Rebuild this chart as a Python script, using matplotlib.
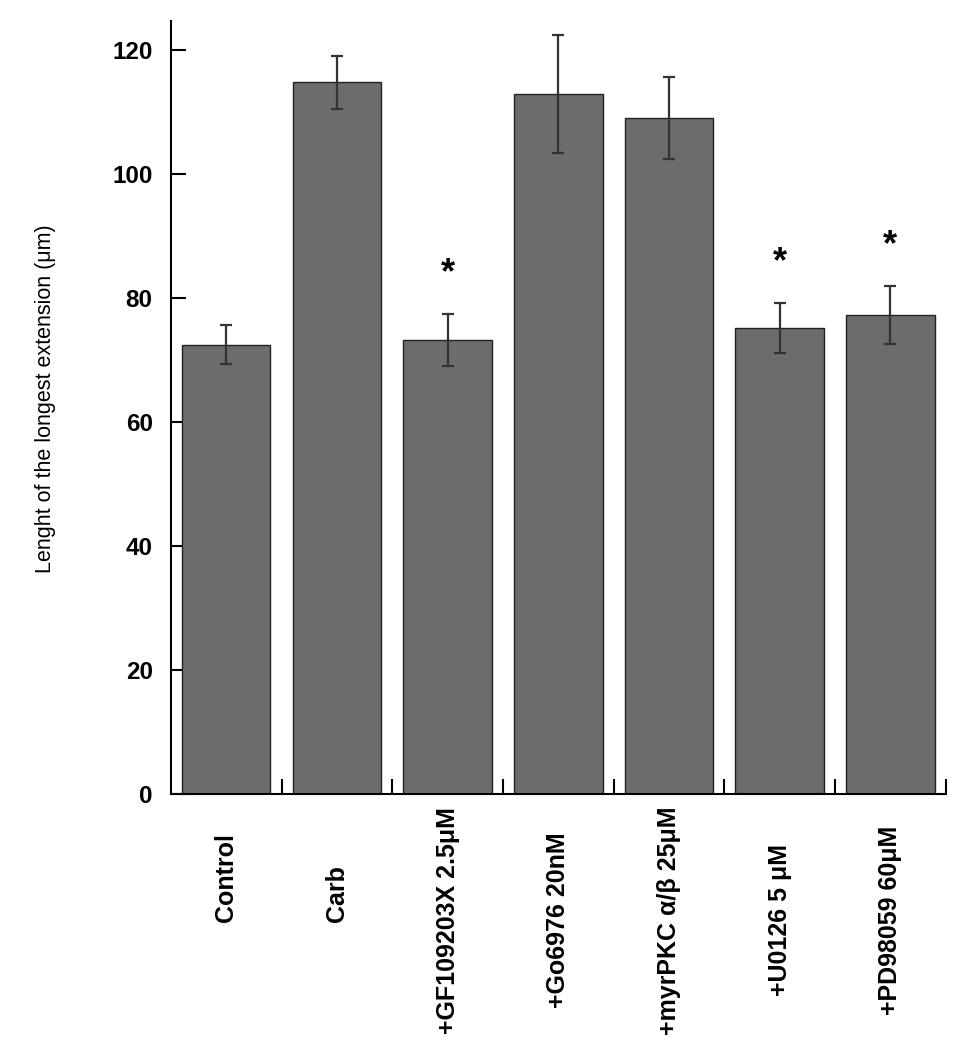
import matplotlib
matplotlib.use("Agg")
import matplotlib.pyplot as plt
import numpy as np

# values
labels = ["Control", "Carb", "+GF109203X 2.5\u03bcM", "+Go6976 20nM",
          "+myrPKC \u03b1/\u03b2 25\u03bcM", "+U0126 5 \u03bcM", "+PD98059 60\u03bcM"]
means = [72.5, 114.8, 73.3, 112.9, 109.0, 75.2, 77.3]
errs = [3.1, 4.3, 4.2, 9.5, 6.6, 4.0, 4.7]
signif = [False, False, True, False, False, True, True]

plt.rcParams.update({"font.family": ["Liberation Sans", "DejaVu Sans"], "font.size": 16})

fig = plt.figure(figsize=(9.65, 10.5), dpi=100)
ax = fig.add_axes([0.177, 0.2438, 0.803, 0.7362])
x = np.arange(len(labels))
ax.bar(x, means, width=0.8, color="#6c6c6c", edgecolor="#222222", linewidth=1.0, zorder=2)
ax.errorbar(x, means, yerr=errs, fmt="none", ecolor="#333333", elinewidth=1.6,
            capsize=4, capthick=1.6, zorder=3)
for xi, m, e, s in zip(x, means, errs, signif):
    if s:
        ax.text(xi, m + e + 6.5, "*", ha="center", va="center", fontsize=26, fontweight="bold")

ax.set_xlim(-0.5, len(labels) - 0.5)
ax.set_ylim(0, 124.7)
ax.set_yticks([0, 20, 40, 60, 80, 100, 120])
ax.tick_params(axis="y", direction="in", length=11, width=1.5, labelsize=17.5, pad=13)
for t in ax.get_yticklabels():
    t.set_fontweight("bold")
ax.set_xticks(x)
ax.set_xticklabels([])
ax.tick_params(axis="x", which="major", length=0)
ax.set_xticks(np.arange(0.5, len(labels), 1.0), minor=True)
ax.tick_params(axis="x", which="minor", direction="in", length=11, width=1.5)
ax.spines[["top", "right"]].set_visible(False)
for sp in ("left", "bottom"):
    ax.spines[sp].set_linewidth(1.5)

# rotated category labels
aligns = ["left", "left", "center", "center", "center", "center", "center"]
for xi, lab, al in zip(x, labels, aligns):
    ax.text(xi, -20.6 if al == "left" else -20.4, lab, rotation=90, rotation_mode="anchor",
            ha="center" if al == "center" else "left", va="center",
            fontsize=18, fontweight="bold", transform=ax.transData, clip_on=False)

fig.text(0.047, 0.62, "Lenght of the longest extension (\u03bcm)", rotation=90,
         ha="center", va="center", fontsize=15.5)

fig.savefig("out.png", dpi=100)
